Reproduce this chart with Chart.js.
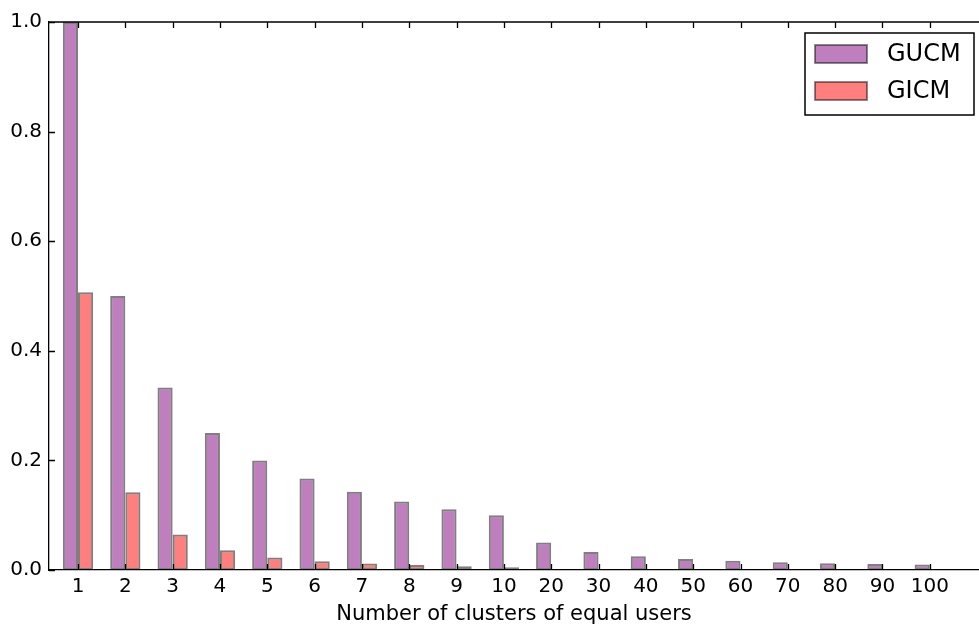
<!DOCTYPE html>
<html>
<head>
<meta charset="utf-8">
<script src="https://cdn.jsdelivr.net/npm/chart.js@4.4.0/dist/chart.umd.min.js"></script>
<style>
  html, body { margin: 0; padding: 0; background: #fff; }
  #wrap { width: 979px; height: 627px; }
</style>
</head>
<body>
<div id="wrap"><canvas id="chart" width="979" height="627"></canvas></div>
<script>
const categories = ['1', '2', '3', '4', '5', '6', '7', '8', '9', '10', '20', '30', '40', '50', '60', '70', '80', '90', '100'];
const gucm = [1.0, 0.5, 0.333, 0.25, 0.2, 0.167, 0.143, 0.125, 0.111, 0.1, 0.05, 0.033, 0.025, 0.02, 0.017, 0.014, 0.0125, 0.011, 0.01];
const gicm = [0.507, 0.142, 0.065, 0.036, 0.023, 0.016, 0.012, 0.009, 0.007, 0.005, 0.0012, 0.0006, 0.0004, 0.0003, 0.0002, 0.0002, 0.0001, 0.0001, 0.0001];
const yTicks = [0, 0.2, 0.4, 0.6, 0.8, 1.0];

const FONT = "'DejaVu Sans', sans-serif";

// ticks pointing inward + top spine + legend box inside the plot
const framePlugin = {
    id: 'frame',
    afterDatasetsDraw(chart) {
        const ctx = chart.ctx;
        const a = chart.chartArea;
        const xs = chart.scales.x, ys = chart.scales.y;
        ctx.save();
        ctx.strokeStyle = '#000';
        ctx.lineWidth = 1.3;
        ctx.beginPath();
        ctx.moveTo(a.left, a.top);
        ctx.lineTo(a.right, a.top);
        categories.forEach((c, i) => {
            const x = Math.round(xs.getPixelForValue(i)) + 0.5;
            ctx.moveTo(x, a.top); ctx.lineTo(x, a.top + 6);
            ctx.moveTo(x, a.bottom); ctx.lineTo(x, a.bottom - 6);
        });
        yTicks.forEach(v => {
            const y = Math.round(ys.getPixelForValue(v)) + 0.5;
            ctx.moveTo(a.left, y); ctx.lineTo(a.left + 6, y);
        });
        ctx.stroke();

        // legend
        const bx = a.right - 174, by = a.top + 11, bw = 169, bh = 82;
        ctx.fillStyle = '#fff';
        ctx.fillRect(bx, by, bw, bh);
        ctx.lineWidth = 1.5;
        ctx.strokeRect(bx, by, bw, bh);
        ctx.font = '24px ' + FONT;
        ctx.textBaseline = 'middle';
        chart.data.datasets.forEach((ds, i) => {
            const py = by + 12 + i * 37;
            ctx.fillStyle = ds.backgroundColor;
            ctx.fillRect(bx + 10, py, 52, 18);
            ctx.strokeStyle = ds.borderColor;
            ctx.lineWidth = 1.8;
            ctx.strokeRect(bx + 10, py, 52, 18);
            ctx.fillStyle = '#000';
            ctx.fillText(ds.label, bx + 82, py + 10);
        });
        ctx.restore();
    }
};

new Chart(document.getElementById('chart').getContext('2d'), {
    type: 'bar',
    data: {
        datasets: [
            {
                label: 'GUCM',
                data: gucm.map((v, i) => ({ x: i, y: v })),
                backgroundColor: 'rgba(128, 0, 128, 0.5)',
                borderColor: 'rgba(0, 0, 0, 0.5)',
                borderWidth: 2,
                borderSkipped: false
            },
            {
                label: 'GICM',
                data: gicm.map((v, i) => ({ x: i, y: v })),
                backgroundColor: 'rgba(255, 0, 0, 0.5)',
                borderColor: 'rgba(0, 0, 0, 0.5)',
                borderWidth: 2,
                borderSkipped: false
            }
        ]
    },
    options: {
        responsive: false,
        animation: false,
        categoryPercentage: 0.64,
        barPercentage: 1.0,
        layout: { padding: { top: 22, right: 0, left: 0, bottom: 0 } },
        plugins: {
            legend: { display: false },
            tooltip: { enabled: false }
        },
        scales: {
            x: {
                type: 'linear',
                offset: false,
                min: -0.613,
                max: 19.04,
                afterBuildTicks: scale => {
                    scale.ticks = categories.map((c, i) => ({ value: i }));
                },
                afterFit: scale => { scale.height = 57; },
                grid: { display: false, drawTicks: false, offset: false },
                border: { display: true, color: '#000', width: 1.3 },
                ticks: {
                    padding: 5,
                    autoSkip: false,
                    maxRotation: 0,
                    color: '#000',
                    font: { family: FONT, size: 20 },
                    callback: v => categories[v]
                },
                title: {
                    display: true,
                    text: 'Number of clusters of equal users',
                    color: '#000',
                    padding: 0,
                    font: { family: FONT, size: 21 }
                }
            },
            y: {
                min: 0,
                max: 1,
                afterBuildTicks: scale => {
                    scale.ticks = yTicks.map(v => ({ value: v }));
                },
                afterFit: scale => { scale.width = 49; },
                grid: { display: false, drawTicks: false },
                border: { display: true, color: '#000', width: 1.3 },
                ticks: {
                    padding: 7,
                    color: '#000',
                    font: { family: FONT, size: 20 },
                    callback: v => v.toFixed(1)
                }
            }
        }
    },
    plugins: [framePlugin]
});
</script>
</body>
</html>
